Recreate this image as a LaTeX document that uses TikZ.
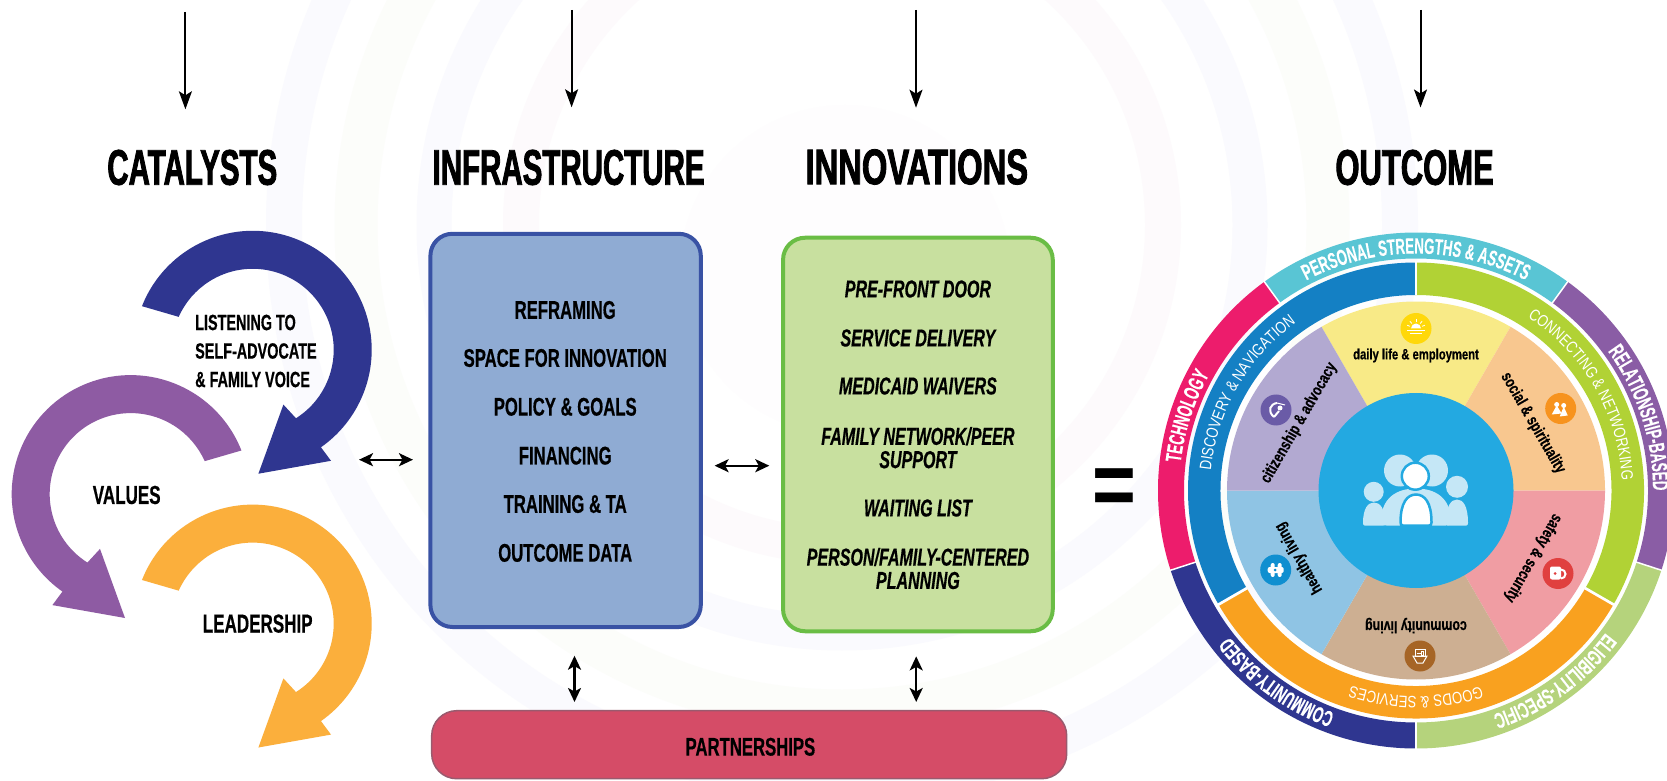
\documentclass[tikz,border=0pt]{standalone}
\usepackage{fontspec}
\setmainfont{Liberation Sans}
\newfontfamily\headfont[FakeStretch=0.59,FakeBold=1.6]{Liberation Sans}
\newfontfamily\labfont[FakeStretch=0.655,FakeBold=0.5]{Liberation Sans}
\newfontfamily\ringfont[FakeStretch=0.6,FakeBold=0.3]{Liberation Sans}
\newfontfamily\thinfont[FakeStretch=0.8]{Liberation Sans}
\newfontfamily\petalfont[FakeStretch=0.75,FakeBold=0.4]{Liberation Sans}
\usetikzlibrary{arrows.meta,decorations.text}

\definecolor{navyarrow}{HTML}{2F3690}
\definecolor{purplearrow}{HTML}{8E5BA3}
\definecolor{orangearrow}{HTML}{FBAF3C}
\definecolor{infrafill}{HTML}{8FABD3}
\definecolor{infraline}{HTML}{3952A4}
\definecolor{innovfill}{HTML}{C8E09F}
\definecolor{innovline}{HTML}{6ABD45}
\definecolor{partfill}{HTML}{D54C67}
\definecolor{partline}{HTML}{9A5A6E}
\definecolor{hubblue}{HTML}{23A9E1}
\definecolor{hubpale}{HTML}{C5E7F6}
\definecolor{ringcyan}{HTML}{59C5D4}
\definecolor{ringpurple}{HTML}{8A5DA5}
\definecolor{ringlime}{HTML}{B5D37C}
\definecolor{ringpink}{HTML}{ED1C6C}
\definecolor{midblue}{HTML}{1480C4}
\definecolor{midgreen}{HTML}{B1D235}
\definecolor{midorange}{HTML}{F9A11F}
\definecolor{icondailyfill}{HTML}{FFD80A}
\definecolor{iconcitizenfill}{HTML}{6A5BA7}
\definecolor{iconsocialfill}{HTML}{F7931E}
\definecolor{iconsafetyfill}{HTML}{E0403F}
\definecolor{iconcommunityfill}{HTML}{A66526}
\definecolor{iconhealthfill}{HTML}{0F8FD0}
\definecolor{bandlilac}{HTML}{FAFAFE}
\definecolor{bandgreen}{HTML}{FCFDFA}
\definecolor{bandpink}{HTML}{FDFAFC}
\definecolor{bandcore}{HTML}{FEFDFE}

\tikzstyle{heading} = [font=\headfont\bfseries\fontsize{50}{50}\selectfont, inner sep=0pt]
\tikzstyle{catlabel} = [font=\labfont\bfseries\fontsize{26}{29}\selectfont, inner sep=0pt, align=left]
\tikzstyle{listenlabel} = [font=\labfont\bfseries\fontsize{22}{28.5}\selectfont, inner sep=0pt, align=left]
\tikzstyle{infralabel} = [font=\labfont\bfseries\fontsize{25.5}{29}\selectfont, inner sep=0pt, align=center]
\tikzstyle{innovlabel} = [font=\labfont\bfseries\itshape\fontsize{24.5}{23.3}\selectfont, inner sep=0pt, align=center]
\tikzstyle{panel} = [draw, rectangle, line width=4pt, rounded corners=22pt]
\tikzstyle{iconball} = [circle, minimum size=31pt, inner sep=0pt]
\tikzstyle{downarrow} = [-{Stealth[length=18pt,width=13pt,inset=4pt]}, line width=2pt]
\tikzstyle{twoway} = [{Stealth[length=14pt,width=13pt,inset=3.5pt]}-{Stealth[length=14pt,width=13pt,inset=3.5pt]}, line width=2.4pt]

\tikzset{
    catarrow/.pic={
        \fill[pic actions] (158.5:119) arc[start angle=158.5,end angle=-55,radius=119]
            -- (78.3,-111) -- (5.7,-123.9) -- (30.7,-54.8) -- (-57.7:81)
            arc[start angle=-57.7,end angle=156,radius=81] -- cycle;
    },
    personbody/.pic={
        \path[pic actions] (-1,0.1) .. controls (-1,0.75) and (-0.55,1) .. (0,1)
            .. controls (0.55,1) and (1,0.75) .. (1,0.1)
            .. controls (1,0.03) and (0.95,0) .. (0.85,0) -- (-0.85,0)
            .. controls (-0.95,0) and (-1,0.03) .. (-1,0.1) -- cycle;
    }
}

\newcommand{\ringseg}[5]{\fill[#1] (#2:#4) arc[start angle=#2,end angle=#3,radius=#4] -- (#3:#5) arc[start angle=#3,end angle=#2,radius=#5] -- cycle;}
\newcommand{\ringtext}[5]{\path[decorate,decoration={text along path,text={|#5\color{white}|#1},text align=center}] (#2:#4) arc[start angle=#2,end angle=#3,radius=#4];}

\begin{document}
\begin{tikzpicture}[x=1pt,y=1pt,>=stealth]
    \clip (0,0) rectangle (1667,780);
    \fill[white] (0,0) rectangle (1667,780);

    \draw[line width=36pt, color=bandlilac] (842,555) circle (558);
    \draw[line width=43pt, color=bandgreen] (842,555) circle (486);
    \draw[line width=35pt, color=bandlilac] (842,555) circle (408);
    \draw[line width=36pt, color=bandpink] (842,555) circle (321);
    \fill[color=bandcore] (845,510) circle (165);

    \coordinate (topcat) at (185.4,768);
    \coordinate (endcat) at (185.4,670.7);
    \coordinate (topinfra) at (571.6,770);
    \coordinate (endinfra) at (571.6,672.7);
    \coordinate (topinnov) at (916,770);
    \coordinate (endinnov) at (916,672.3);
    \coordinate (topout) at (1420.5,770);
    \coordinate (endout) at (1420.5,672.5);

    \draw[downarrow] (topcat) -- (endcat);
    \draw[downarrow] (topinfra) -- (endinfra);
    \draw[downarrow] (topinnov) -- (endinnov);
    \draw[downarrow] (topout) -- (endout);

    \node [heading] (catalysts) at (192.3,612.5) {CATALYSTS};
    \node [heading] (infrastructure) at (568.6,612.5) {INFRASTRUCTURE};
    \node [heading] (innovations) at (916.8,613) {\scalebox{1.11}[1]{INNOVATIONS}};
    \node [heading] (outcome) at (1414.6,612.5) {\scalebox{1.05}[1]{OUTCOME}};

    \pic[fill=navyarrow] (listenarrow) at (252.7,430.2) {catarrow};
    \pic[fill=purplearrow,xscale=-1] (valuesarrow) at (130.7,285.9) {catarrow};
    \pic[fill=orangearrow] (leadarrow) at (252.7,156.4) {catarrow};

    \node [listenlabel,anchor=west] (listening) at (195,429) {LISTENING TO\\SELF-ADVOCATE\\\& FAMILY VOICE};
    \node [catlabel] (values) at (126.7,285) {VALUES};
    \node [catlabel] (leadership) at (257.7,156.4) {LEADERSHIP};

    \node [panel,fill=infrafill,draw=infraline,minimum width=270.4pt,minimum height=393.2pt] (infrabox) at (565.6,349.6) {};
    \node [panel,fill=innovfill,draw=innovline,minimum width=269.7pt,minimum height=393.5pt] (innovbox) at (917.9,345.5) {};
    \node [panel,fill=partfill,draw=partline,line width=1.5pt,rounded corners=25pt,minimum width=635pt,minimum height=68pt] (partbox) at (749.2,35.3) {};

    \node [infralabel] (reframing) at (565.2,470) {REFRAMING};
    \node [infralabel] (space) at (565.2,422) {SPACE FOR INNOVATION};
    \node [infralabel] (policy) at (565.2,373.2) {POLICY \& GOALS};
    \node [infralabel] (financing) at (565.2,324.3) {FINANCING};
    \node [infralabel] (training) at (565.2,276) {TRAINING \& TA};
    \node [infralabel] (outdata) at (565.2,227.1) {OUTCOME DATA};

    \node [innovlabel] (prefront) at (917.9,491) {PRE-FRONT DOOR};
    \node [innovlabel] (service) at (917.9,442) {SERVICE DELIVERY};
    \node [innovlabel] (medicaid) at (917.9,394) {MEDICAID WAIVERS};
    \node [innovlabel] (family) at (917.9,332.3) {FAMILY NETWORK/PEER\\SUPPORT};
    \node [innovlabel] (waiting) at (917.9,272) {WAITING LIST};
    \node [innovlabel] (person) at (917.9,211.5) {PERSON/FAMILY-CENTERED\\PLANNING};

    \node [infralabel] (partnerships) at (750.4,33.2) {PARTNERSHIPS};

    \coordinate (catright) at (359,320.3);
    \coordinate (infraleft) at (413,320.3);
    \coordinate (infraright) at (714.6,314.3);
    \coordinate (innovleft) at (769.3,314.3);
    \coordinate (infradown) at (574.5,124.3);
    \coordinate (partleft) at (574.5,78);
    \coordinate (innovdown) at (916.2,123.6);
    \coordinate (partright) at (916.2,78);

    \draw[twoway] (catright) -- (infraleft);
    \draw[twoway] (infraright) -- (innovleft);
    \draw[twoway] (infradown) -- (partleft);
    \draw[twoway] (innovdown) -- (partright);

    \node [inner sep=0pt,font=\bfseries\fontsize{75}{75}\selectfont] (equals) at (1114,288) {\scalebox{1}[1.2]{=}};

    \begin{scope}[shift={(1416,289.5)}]
        \ringseg{ringcyan}{54}{126}{258}{232}
        \ringseg{ringpurple}{-18}{54}{258}{232}
        \ringseg{ringlime}{-90}{-18}{258}{232}
        \ringseg{navyarrow}{198}{270}{258}{232}
        \ringseg{ringpink}{126}{198}{258}{232}
        \ringseg{midblue}{90}{210}{228}{195.5}
        \ringseg{midgreen}{-30}{90}{228}{195.5}
        \ringseg{midorange}{210}{330}{228}{195.5}
        \foreach \ang in {54,126,198,270,342}
            \draw[white,line width=1.5pt] (\ang:231) -- (\ang:259);
        \foreach \ang in {90,210,330}
            \draw[white,line width=2.7pt] (\ang:195) -- (\ang:229);

        \foreach \ang/\secol/\sectxt/\secsize in {
            90/F8EA87/daily life \& employment/15,
            30/F8C78F/social \& spirituality/16.5,
            -30/F09DA3/safety \& security/16.5,
            -90/CDAF92/community living/16.5,
            -150/8FC4E4/healthy living/16.5,
            150/B2A9D1/citizenship \& advocacy/16.5} {
            \definecolor{seccolor}{HTML}{\secol}
            \fill[seccolor] (0,0) -- (\ang-30:189) arc[start angle=\ang-30,end angle=\ang+30,radius=189] -- cycle;
            \node [inner sep=0pt,rotate=\ang-90,font=\petalfont\bfseries\fontsize{\secsize}{\secsize}\selectfont] (petal\ang) at (\ang:135) {\sectxt};
        }

        \node [circle,fill=hubblue,minimum size=195pt,inner sep=0pt] (hub) at (0,0) {};
        \fill[hubpale] (-16,20) circle (16);
        \fill[hubpale] (16,20) circle (16);
        \fill[hubpale] (-42.3,-1.3) circle (10);
        \fill[hubpale] (41,3.7) circle (11);
        \pic[fill=hubpale,xscale=11,yscale=23] at (-42,-35) {personbody};
        \pic[fill=hubpale,xscale=11,yscale=26] at (41,-35) {personbody};
        \pic[fill=hubpale,xscale=35,yscale=37] at (0,-35) {personbody};
        \fill[white,draw=hubblue,line width=2.5pt] (-0.7,14.3) circle (13.5);
        \pic[fill=white,draw=hubblue,line width=2.5pt,xscale=15.5,yscale=31] at (0,-35) {personbody};

        \node [iconball,fill=icondailyfill] (icondaily) at (0,162) {};
        \node [iconball,fill=iconcitizenfill] (iconcitizen) at (-140,80.5) {};
        \node [iconball,fill=iconsocialfill] (iconsocial) at (144.7,82) {};
        \node [iconball,fill=iconsafetyfill] (iconsafety) at (142,-83) {};
        \node [iconball,fill=iconcommunityfill] (iconcommunity) at (4,-165.5) {};
        \node [iconball,fill=iconhealthfill] (iconhealth) at (-140.3,-79.5) {};

        \begin{scope}[shift={(icondaily.center)}]
            \fill[white] (-5,0) arc[start angle=180,end angle=0,radius=5] -- cycle;
            \foreach \ang in {20,50,90,130,160}
                \draw[white,line width=0.8pt] (\ang:6.5) -- (\ang:9.5);
            \draw[white,line width=0.8pt] (-9,-2) -- (9,-2);
            \draw[white,line width=0.8pt] (-6,-4.5) -- (6,-4.5);
        \end{scope}
        \begin{scope}[shift={(iconcitizen.center)}]
            \draw[white,line width=2pt] (-2,-7) .. controls (-9,-1) and (-6,6) .. (1,7);
            \draw[white,line width=1pt] (1,7) -- (9,5);
            \fill[white] (4,2) circle (2.5);
            \draw[white,line width=2pt] (-2,-7) -- (3,-1);
        \end{scope}
        \begin{scope}[shift={(iconsocial.center)}]
            \fill[white] (-4,4) circle (2.5);
            \fill[white] (3,3) circle (2.5);
            \fill[white] (-4,3) -- (-9,-6) -- (1,-5) -- cycle;
            \fill[white] (3,2) -- (-1,-8) -- (7,-7) -- cycle;
        \end{scope}
        \begin{scope}[shift={(iconsafety.center)}]
            \draw[white,line width=2pt] (3,4) arc[start angle=90,end angle=-90,radius=4.5];
            \fill[white,rounded corners=2pt] (-8,-6) rectangle (3,7);
            \fill[iconsafetyfill] (-3,0) circle (1.5);
        \end{scope}
        \begin{scope}[shift={(iconcommunity.center)}]
            \draw[white,line width=1pt] (-7,0) -- (7,0) -- (3,-7) -- (-3,-7) -- cycle;
            \draw[white,line width=1pt] (-5,0) rectangle (5,7);
            \draw[white,line width=0.8pt] (-3,3) -- (1,3) (1,1) rectangle (3,5);
        \end{scope}
        \begin{scope}[shift={(iconhealth.center)}]
            \fill[white,rounded corners=2pt] (-8,-3) rectangle (8,3);
            \fill[white,rounded corners=2pt] (-5,-7) rectangle (-1,7);
            \fill[white,rounded corners=2pt] (2,-7) rectangle (6,7);
            \fill[iconhealthfill] (-0.5,0) circle (1.5);
        \end{scope}

        \ringtext{PERSONAL STRENGTHS {\&} ASSETS}{126}{54}{237}{\ringfont\bfseries\fontsize{22}{22}\selectfont}
        \ringtext{RELATIONSHIP-BASED}{54}{-18}{237}{\ringfont\bfseries\fontsize{22}{22}\selectfont}
        \ringtext{ELIGIBILITY-SPECIFIC}{-18}{-90}{237}{\ringfont\bfseries\fontsize{22}{22}\selectfont}
        \ringtext{COMMUNITY-BASED}{-90}{-162}{237}{\ringfont\bfseries\fontsize{22}{22}\selectfont}
        \ringtext{TECHNOLOGY}{198}{126}{237}{\ringfont\bfseries\fontsize{22}{22}\selectfont}
        \ringtext{DISCOVERY {\&} NAVIGATION}{210}{90}{206}{\thinfont\fontsize{16.5}{16.5}\selectfont}
        \ringtext{CONNECTING {\&} NETWORKING}{90}{-30}{206}{\thinfont\fontsize{16.5}{16.5}\selectfont}
        \ringtext{GOODS {\&} SERVICES}{330}{210}{206}{\thinfont\fontsize{16.5}{16.5}\selectfont}
    \end{scope}
\end{tikzpicture}
\end{document}
